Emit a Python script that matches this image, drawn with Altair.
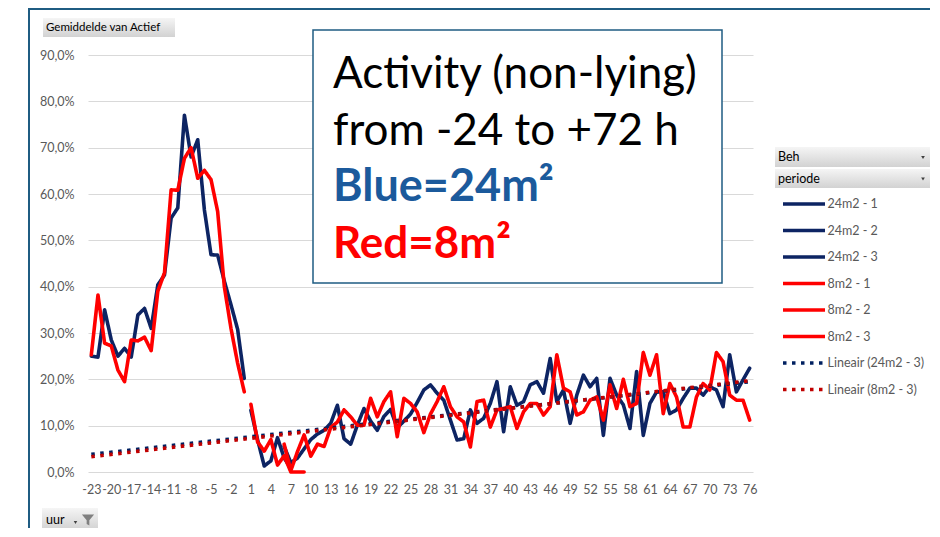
import altair as alt
import pandas as pd

# ---------------- data ----------------
series_names = ["24m2 - 1", "24m2 - 2", "24m2 - 3", "8m2 - 1", "8m2 - 2", "8m2 - 3",
                "Lineair (24m2 - 3)", "Lineair (8m2 - 3)"]

hours_p1 = list(range(-23, 1))
blue_p1 = [25.0, 24.8, 35.0, 28.5, 25.0, 26.7, 24.8, 33.9, 35.3, 31.0, 40.4, 42.5,
           54.8, 57.0, 77.0, 68.0, 71.7, 56.6, 46.9, 46.8, 41.2, 36.1, 30.8, 20.2]
red_p1 = [25.3, 38.2, 27.8, 27.2, 22.0, 19.5, 28.5, 28.3, 29.1, 26.2, 39.0, 43.0,
          60.9, 60.8, 67.7, 70.0, 63.4, 65.1, 63.1, 56.2, 40.0, 31.0, 23.5, 17.3]

hours_blue_p2 = list(range(1, 8))
blue_p2 = [13.3, 7.0, 1.3, 2.4, 7.4, 3.0, 0.8]
hours_red_p2 = list(range(1, 10))
red_p2 = [14.6, 6.5, 4.5, 7.0, 1.5, 3.5, 0.0, 0.0, 0.0]

hours_p3 = list(range(6, 77))
blue_p3 = [5.5, 2.0, 3.0, 5.0, 7.0, 8.2, 9.0, 10.5, 14.4, 7.2,
           6.0, 10.1, 13.7, 11.0, 9.0, 12.0, 13.5, 9.5, 11.0, 12.5,
           15.0, 17.7, 18.8, 17.0, 15.5, 11.2, 6.9, 7.2, 13.4, 10.5,
           11.6, 14.8, 19.5, 8.7, 18.4, 14.4, 15.2, 18.8, 19.5, 17.0,
           24.5, 15.2, 17.7, 10.5, 16.6, 20.9, 18.4, 20.2, 7.9, 20.2,
           16.6, 14.5, 9.4, 21.7, 7.9, 14.8, 17.3, 17.3, 12.6, 13.4,
           15.9, 18.1, 18.1, 16.6, 18.4, 17.7, 14.1, 25.3, 17.3, 19.9, 22.4]
red_p3 = [6.0, 0.3, 4.4, 8.0, 3.4, 6.0, 5.5, 9.6, 10.8, 13.4,
          11.9, 10.1, 10.1, 15.9, 11.9, 15.2, 17.3, 7.6, 15.9, 14.8,
          13.0, 8.5, 12.5, 15.2, 18.4, 14.1, 11.9, 10.8, 5.4, 15.2,
          15.5, 9.7, 13.4, 13.7, 14.1, 9.4, 13.0, 14.8, 14.8, 12.3,
          14.1, 25.3, 18.1, 17.3, 12.3, 13.0, 15.5, 16.2, 11.2, 18.8,
          13.7, 20.0, 14.1, 14.8, 25.8, 20.9, 25.3, 12.6, 19.1, 16.2,
          9.7, 9.7, 16.2, 19.1, 17.7, 25.8, 23.8, 16.6, 15.5, 15.5, 11.2]

trend_hours = [-23, 76]
trend_blue = [3.8, 19.5]
trend_red = [3.3, 19.7]

x_tick_values = list(range(-23, 77, 3))
y_tick_values = [0, 10, 20, 30, 40, 50, 60, 70, 80, 90]

# ---------------- styling ----------------
NAVY = "#0D2463"
RED = "#FF0000"
TREND_BLUE = "#002060"
TREND_RED = "#C00000"
FRAME = "#1F5C82"
GRAY_TXT = "#595959"
FONT = "Lato"

series_colors = [NAVY, NAVY, NAVY, RED, RED, RED, TREND_BLUE, TREND_RED]
series_dashes = [[1, 0]] * 6 + [[3.5, 5.5], [3.5, 5.5]]


def frame(hours, values, name):
    return pd.DataFrame({"hour": hours, "value": values, "series": name})


df_blue = pd.concat([frame(hours_p1, blue_p1, "24m2 - 1"),
                     frame(hours_blue_p2, blue_p2, "24m2 - 2"),
                     frame(hours_p3, blue_p3, "24m2 - 3")])
df_red = pd.concat([frame(hours_p1, red_p1, "8m2 - 1"),
                    frame(hours_red_p2, red_p2, "8m2 - 2"),
                    frame(hours_p3, red_p3, "8m2 - 3")])
df_trend = pd.concat([frame(trend_hours, trend_blue, "Lineair (24m2 - 3)"),
                      frame(trend_hours, trend_red, "Lineair (8m2 - 3)")])

W, H = 665, 417

legend_spec = alt.Legend(
    title=None, orient="none", legendX=707, legendY=140,
    symbolType="M-3,0H3", symbolSize=196, symbolStrokeWidth=3.6,
    labelFont=FONT, labelFontSize=12.5, labelColor=GRAY_TXT,
    labelOffset=14.5, rowPadding=9.5, padding=0,
)

x_enc = alt.X("hour:Q",
              scale=alt.Scale(domain=[-23.5, 76.5], nice=False, zero=False),
              axis=alt.Axis(values=x_tick_values, title=None, grid=False, ticks=False,
                            domain=False, labelOverlap=False, labelPadding=11,
                            labelExpr="'' + datum.value",
                            labelFont=FONT, labelFontSize=12.5, labelColor=GRAY_TXT,
                            labelFlush=False))
y_enc = alt.Y("value:Q",
              scale=alt.Scale(domain=[0, 90], nice=False),
              axis=alt.Axis(values=y_tick_values, title=None, grid=True,
                            gridColor="#D9D9D9", gridWidth=1, ticks=False, domain=False,
                            labelExpr="replace(format(datum.value, '.1f'), '.', ',') + '%'",
                            labelPadding=14, labelFont=FONT, labelFontSize=12.5,
                            labelColor=GRAY_TXT))
color_enc = alt.Color("series:N", scale=alt.Scale(domain=series_names, range=series_colors),
                      legend=legend_spec)
dash_enc = alt.StrokeDash("series:N", scale=alt.Scale(domain=series_names, range=series_dashes),
                          legend=legend_spec)

blue_lines = alt.Chart(df_blue).mark_line(strokeWidth=3.6, strokeJoin="round", strokeCap="round").encode(
    x=x_enc, y=y_enc, color=color_enc, strokeDash=dash_enc)
red_lines = alt.Chart(df_red).mark_line(strokeWidth=3.6, strokeJoin="round", strokeCap="round").encode(
    x=x_enc, y=y_enc, color=color_enc, strokeDash=dash_enc)
trend_lines = alt.Chart(df_trend).mark_line(strokeWidth=3.6, strokeCap="butt").encode(
    x=x_enc, y=y_enc, color=color_enc, strokeDash=dash_enc)

one = pd.DataFrame({"k": [0]})

grad = alt.LinearGradient(
    gradient="linear",
    stops=[alt.GradientStop(color="#F5F5F5", offset=0), alt.GradientStop(color="#D2D2D2", offset=1)],
    x1=0, x2=0, y1=0, y2=1)


def rect(x, x2, y, y2, **kw):
    return alt.Chart(one).mark_rect(**kw).encode(
        x=alt.value(x), x2=alt.value(x2), y=alt.value(y), y2=alt.value(y2))


def label(txt, x, y, **kw):
    return alt.Chart(one).mark_text(text=txt, align="left", baseline="middle", **kw).encode(
        x=alt.value(x), y=alt.value(y))


def glyph(shape, x, y, size, color):
    return alt.Chart(one).mark_point(shape=shape, filled=True, size=size, color=color,
                                     opacity=1, strokeWidth=0).encode(
        x=alt.value(x), y=alt.value(y))


def big_text(txt, y, **kw):
    return alt.Chart(one).mark_text(text=txt, align="left", baseline="alphabetic",
                                    font=FONT, **kw).encode(
        x=alt.value(245), y=alt.value(y))


# outer chart frame (left and top edges)
frame_left = alt.Chart(one).mark_rule(color=FRAME, strokeWidth=2).encode(
    x=alt.value(-59), y=alt.value(-46), y2=alt.value(476))
frame_top = alt.Chart(one).mark_rule(color=FRAME, strokeWidth=2).encode(
    x=alt.value(-60), x2=alt.value(860), y=alt.value(-46))

# title box
box = rect(225, 634, -25, 228, fill="white", stroke=FRAME, strokeWidth=1.5)
t1 = big_text("Activity (non-lying)", 33, fontSize=44, color="#000000")
t2 = big_text("from -24 to +72 h", 90, fontSize=44, color="#000000")
t3 = big_text("Blue=24m²", 146, fontSize=45, fontWeight="bold", color="#1B5A9C")
t4 = big_text("Red=8m²", 203, fontSize=44, fontWeight="bold", color=RED)

# pivot field buttons
btn_value = rect(-45, 87, -37, -18, fill=grad)
btn_value_txt = label("Gemiddelde van  Actief", -42, -27.5, font=FONT, fontSize=11.5, color="#000000")

btn_beh = rect(687, 847, 92, 112, fill=grad)
btn_beh_txt = label("Beh", 690, 102, font=FONT, fontSize=12.5, color="#000000")
btn_beh_tri = glyph("triangle-down", 835, 102.5, 14, "#404040")
btn_per = rect(687, 847, 114, 133, fill=grad)
btn_per_txt = label("periode", 690, 123.5, font=FONT, fontSize=12.5, color="#000000")
btn_per_tri = glyph("triangle-down", 835, 124, 14, "#404040")

btn_uur = rect(-46, 10, 453, 475, fill=grad)
btn_uur_txt = label("uur", -42, 464.5, font=FONT, fontSize=12.5, color="#000000")
btn_uur_tri = glyph("triangle-down", -12.5, 467.5, 12, "#404040")
btn_uur_funnel = glyph("M-1,-0.9L1,-0.9L0.22,0.05L0.22,0.9L-0.22,0.65L-0.22,0.05Z",
                       0, 465, 150, "#808080")

chart = alt.layer(
    blue_lines, red_lines, trend_lines,
    frame_left, frame_top,
    box, t1, t2, t3, t4,
    btn_value, btn_value_txt,
    btn_beh, btn_beh_txt, btn_beh_tri,
    btn_per, btn_per_txt, btn_per_tri,
    btn_uur, btn_uur_txt, btn_uur_tri, btn_uur_funnel,
).properties(
    width=W, height=H,
    padding={"left": 80, "top": 47, "right": 177, "bottom": 56},
    autosize=alt.AutoSizeParams(type="none"),
    background="white",
).configure_view(strokeWidth=0)

chart.save("out.html", embed_options={"renderer": "svg", "actions": False})
